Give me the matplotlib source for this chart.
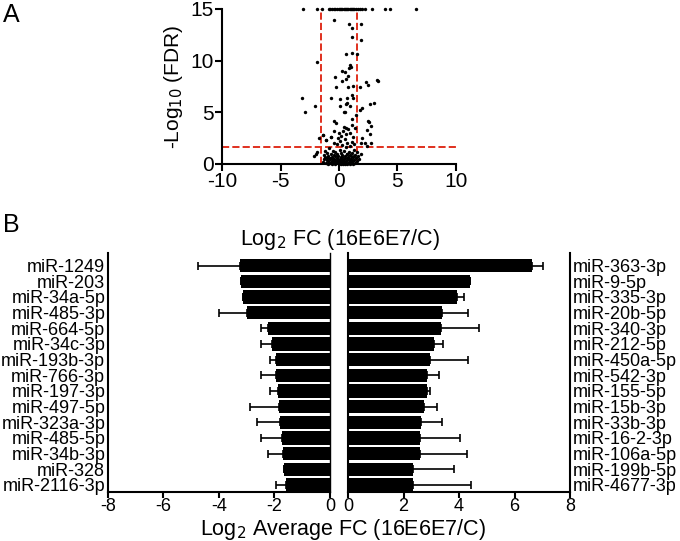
import numpy as np
import matplotlib
matplotlib.use('Agg')
import matplotlib.pyplot as plt

plt.rcParams['font.family'] = ['Liberation Sans', 'DejaVu Sans']
plt.rcParams['axes.unicode_minus'] = False

# ---- panel A: volcano (log2 FC, -log10 FDR) ----
fc = [-3.1, -1.85, -1.42, -0.88, -0.75, -0.6, -0.45, -0.3, -0.15, 0.0, 0.1, 0.2, 0.3, 0.4,
      0.5, 0.6, 0.7, 0.8, 0.9, 1.0, 1.1, 1.2, 1.3, 1.45, 1.6, 1.8, 2.0, 2.2, 2.85, 3.9, 4.35, 6.55,
      -0.43, 0.85, 1.14, 1.91, 1.09, 1.85, 0.57, 1.09, 1.51,
      -1.85, 0.94, 1.0, 0.85, 0.29, 0.51, -0.34, 0.77, 0.57, 0.29, 2.28, 2.48, 3.33, -0.22, 0.77,
      1.23, 1.8, -3.19, -0.65, 0.09, 0.66, 1.09, 1.17, -2.05, 0.09, 0.57, 0.72, 0.94, 2.65, 2.99,
      -2.93, 0.49, 1.8, 1.94, 0.43, -0.43, -0.28, 1.09, 1.43, 2.48, 2.71, 2.37, 2.65, 2.71, 0.43,
      0.57, 0.38, 1.14, 0.94, -0.43, -0.71, -1.33, -1.14, 2.0, 1.85, 2.2, 2.37, 3.28, 2.56,
      -1.9, -2.1, -2.0, -1.7, -1.35, -1.15, -0.7,
      -1.4, -1.3, -1.25, -1.2, -1.1, -1.05, -1.0, -0.95, -0.9, -0.85, -0.8, -0.75, -0.7, -0.65,
      -0.6, -0.55, -0.5, -0.45, -0.4, -0.35, -0.3, -0.25, -0.2, -0.15, -0.1, -0.05, 0.0, 0.05,
      0.1, 0.15, 0.2, 0.25, 0.3, 0.35, 0.4, 0.45, 0.5, 0.55, 0.6, 0.65, 0.7, 0.75, 0.8, 0.85,
      0.9, 0.95, 1.0, 1.05, 1.1, 1.15, 1.2, 1.25, 1.3, 1.35, 1.4, 1.45, 1.5, 1.55, 1.65, 1.75, 1.9,
      -0.9, -0.6, -0.3, 0.0, 0.2, 0.5, 0.7, 0.9, 1.2, -1.0, -0.5, 0.1, 0.3, 0.6, 0.85, 1.1, -0.2,
      -0.8, 0.4, 0.75, 1.0, 0.25, -0.35, 0.55, 0.95, 1.3, -1.2, 0.15, -0.6, 0.65,
      -0.2, 0.1, 0.3, 0.5, 0.7, 0.9, 1.1, 1.3, 0.2, 0.6, -0.4, 1.2, 0.0, 0.8, 1.4, -0.1]
fdr = [15] * 32 + \
      [13.94, 13.5, 13.2, 13.5, 12.26, 12.0, 10.65, 10.78, 10.65,
       9.84, 9.58, 9.42, 9.32, 9.03, 8.87, 8.42, 8.52, 8.2, 8.03, 7.97, 7.65, 8.03, 7.48, 7.48,
       7.58, 7.42, 6.42, 6.36, 6.26, 6.36, 6.68, 6.36, 5.64, 5.64, 5.78, 5.93, 5.64, 5.78, 5.87,
       5.0, 5.06, 5.23, 5.45, 5.06, 4.16, 3.94, 4.33, 4.74, 4.16, 3.68, 3.29, 2.9, 2.06, 3.61,
       3.45, 3.22, 3.78, 2.97, 3.22, 2.64, 2.81, 2.32, 2.49, 2.0, 2.06, 1.74, 8.13, 4.1,
       1.2, 0.8, 1.0, 2.5, 2.8, 2.3, 2.6,
       0.2, 0.5, 0.9, 1.3, 0.1, 0.6, 1.1, 0.3, 0.8, 1.5, 0.05, 0.45, 1.0, 0.2,
       0.7, 1.3, 0.1, 0.5, 0.9, 0.3, 1.2, 0.05, 0.6, 1.0, 0.2, 0.8, 0.4, 1.4,
       0.1, 0.7, 1.1, 0.3, 0.9, 0.0, 0.5, 1.3, 0.2, 0.8, 1.6, 0.4, 1.0, 0.1, 0.6, 1.2,
       0.3, 0.9, 0.05, 0.5, 1.1, 0.2, 0.7, 1.4, 0.35, 0.9, 0.1, 0.6, 1.2, 0.3, 0.8, 0.5, 1.0,
       0.0, 0.0, 0.0, 0.0, 0.0, 0.0, 0.0, 0.0, 0.0, 0.4, 0.3, 0.5, 0.35, 0.25, 0.45, 0.35, 0.35,
       0.6, 0.15, 0.7, 0.8, 0.65, 0.75, 0.55, 0.15, 0.75, 0.65, 0.25, 0.45, 0.95,
       1.9, 2.2, 1.8, 2.4, 2.0, 1.7, 2.1, 1.9, 2.7, 2.9, 2.0, 2.6, 3.0, 3.4, 3.5, 2.5]
fc_cut = 1.58
fdr_cut = 1.6

# ---- panel B: top down / up miRNAs ----
down_names = ['miR-1249', 'miR-203', 'miR-34a-5p', 'miR-485-3p', 'miR-664-5p', 'miR-34c-3p',
              'miR-193b-3p', 'miR-766-3p', 'miR-197-3p', 'miR-497-5p', 'miR-323a-3p',
              'miR-485-5p', 'miR-34b-3p', 'miR-328', 'miR-2116-3p']
down_fc = [-3.25, -3.2, -3.15, -3.0, -2.23, -2.1, -1.95, -1.93, -1.88, -1.85, -1.8, -1.74,
           -1.71, -1.67, -1.6]
down_err = [1.5, 0.0, 0.0, 1.0, 0.26, 0.39, 0.22, 0.56, 0.29, 1.04, 0.82, 0.75, 0.54, 0.0, 0.33]

up_names = ['miR-363-3p', 'miR-9-5p', 'miR-335-3p', 'miR-20b-5p', 'miR-340-3p', 'miR-212-5p',
            'miR-450a-5p', 'miR-542-3p', 'miR-155-5p', 'miR-15b-3p', 'miR-33b-3p',
            'miR-16-2-3p', 'miR-106a-5p', 'miR-199b-5p', 'miR-4677-3p']
up_fc = [6.63, 4.39, 3.91, 3.37, 3.35, 3.08, 2.95, 2.86, 2.85, 2.72, 2.62, 2.6, 2.59, 2.35, 2.35]
up_err = [0.41, 0.0, 0.27, 0.97, 1.38, 0.33, 1.37, 0.43, 0.1, 0.47, 0.76, 1.43, 1.68, 1.48, 2.08]

fig = plt.figure(figsize=(6.8, 5.41), dpi=100)

# panel A
axA = fig.add_axes([0.3265, 0.6969, 0.344, 0.2865])
axA.scatter(fc, fdr, s=6, c='black', linewidths=0, clip_on=False, zorder=3)
red = '#e0301e'
axA.plot([-fc_cut, -fc_cut], [0, 15], ls='--', color=red, lw=1.4, zorder=2)
axA.plot([fc_cut, fc_cut], [0, 15], ls='--', color=red, lw=1.4, zorder=2)
axA.plot([-10, 10], [fdr_cut, fdr_cut], ls='--', color=red, lw=1.4, zorder=2)
axA.set_xlim(-10, 10)
axA.set_ylim(0, 15)
axA.set_xticks([-10, -5, 0, 5, 10])
axA.set_yticks([0, 5, 10, 15])
axA.spines['top'].set_visible(False)
axA.spines['right'].set_visible(False)
for s in ['left', 'bottom']:
    axA.spines[s].set_linewidth(1.5)
axA.tick_params(labelsize=15, width=1.5, length=5, pad=1)
axA.set_ylabel('-Log$_{10}$ (FDR)', fontsize=15, labelpad=4)

# panel B
pos = np.arange(len(down_names))[::-1]
axL = fig.add_axes([0.1588, 0.0906, 0.3265, 0.4417])
axR = fig.add_axes([0.5118, 0.0906, 0.3265, 0.4417])

axL.barh(pos, down_fc, height=0.85, color='black', zorder=2)
axL.errorbar(down_fc, pos, xerr=[down_err, [0] * len(down_err)], fmt='none',
             ecolor='black', elinewidth=1.2, capsize=3, capthick=1.2, zorder=1)
axL.set_xlim(-8, 0)
axL.set_xticks([-8, -6, -4, -2, 0])
axL.set_yticks(pos)
axL.set_yticklabels(down_names)
axL.spines['right'].set_linewidth(1.0)

axR.barh(pos, up_fc, height=0.85, color='black', zorder=2)
axR.errorbar(up_fc, pos, xerr=[[0] * len(up_err), up_err], fmt='none',
             ecolor='black', elinewidth=1.2, capsize=3, capthick=1.2, zorder=1)
axR.set_xlim(0, 8)
axR.set_xticks([0, 2, 4, 6, 8])
axR.set_yticks(pos)
axR.set_yticklabels(up_names)
axR.yaxis.tick_right()

for ax in (axL, axR):
    ax.set_ylim(-0.45, 14.8)
    ax.spines['top'].set_visible(False)
    for s in ['left', 'bottom']:
        ax.spines[s].set_linewidth(1.5)
    ax.tick_params(axis='x', labelsize=13, width=1.5, length=4, pad=0)
    ax.tick_params(axis='y', labelsize=13, length=0, pad=2)
axR.spines['right'].set_linewidth(1.5)

fig.text(0.5, 0.558, 'Log$_2$ FC (16E6E7/C)', ha='center', va='center', fontsize=15.5)
fig.text(0.505, 0.022, 'Log$_2$ Average FC (16E6E7/C)', ha='center', va='center', fontsize=15.5)

fig.text(0.005, 0.972, 'A', fontsize=18, va='center')
fig.text(0.005, 0.584, 'B', fontsize=18, va='center')

fig.savefig('out.png', dpi=100)
